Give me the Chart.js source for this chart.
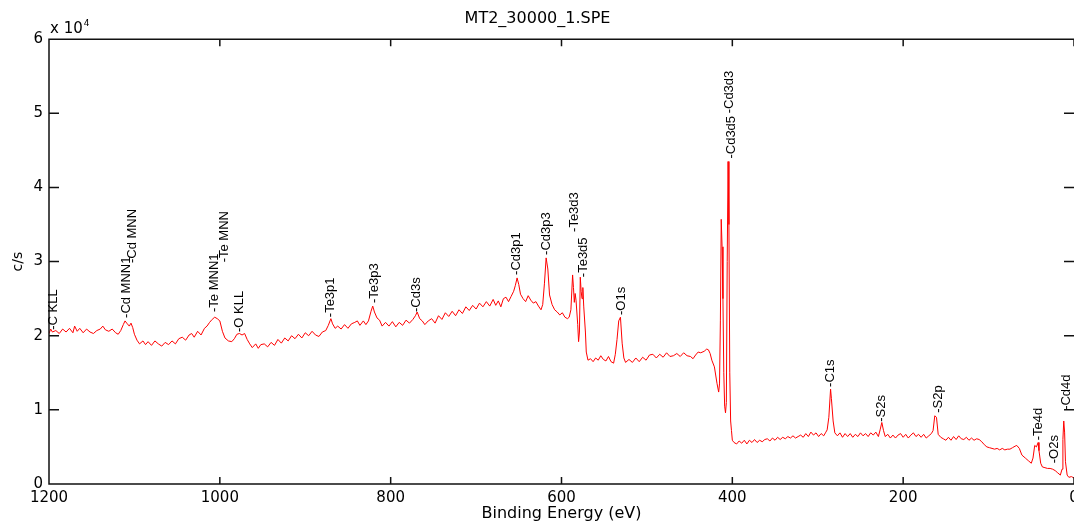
<!DOCTYPE html>
<html>
<head>
<meta charset="utf-8">
<script src="https://cdn.jsdelivr.net/npm/chart.js@4.4.1/dist/chart.umd.min.js"></script>
<style>
  body { margin: 0; background: #fff; }
  #wrap { width: 1074px; height: 523px; }
</style>
</head>
<body>
<div id="wrap"><canvas id="spectrum"></canvas></div>
<script>
// survey spectrum, binding energy (eV) and counts (c/s)
const energy = [
  1200, 1198, 1196, 1192, 1188, 1184, 1180, 1176, 1172, 1170,
  1167, 1164, 1160, 1156, 1152, 1148, 1144, 1140, 1137, 1134,
  1130, 1126, 1122, 1119, 1116, 1113, 1111, 1109, 1106, 1104,
  1102, 1100, 1097, 1094, 1090, 1087, 1084, 1080, 1076, 1072,
  1068, 1064, 1060, 1056, 1052, 1048, 1044, 1040, 1036, 1033,
  1030, 1026, 1022, 1018, 1015, 1012, 1009, 1006, 1003, 1000,
  997, 994, 990, 986, 983, 980, 977, 974, 971, 968,
  965, 962, 958, 955, 952, 948, 944, 940, 936, 932,
  928, 924, 920, 916, 912, 908, 904, 900, 896, 892,
  888, 884, 880, 876, 873, 870, 868, 865, 862, 858,
  854, 850, 846, 842, 839, 836, 832, 829, 826, 823,
  821, 819, 816, 813, 810, 806, 802, 798, 794, 790,
  786, 782, 778, 774, 771, 769, 766, 763, 760, 756,
  752, 748, 744, 740, 736, 732, 728, 724, 720, 716,
  712, 708, 704, 700, 696, 692, 688, 684, 680, 677,
  674, 671, 668, 665, 662, 659, 656, 654, 652, 650,
  648, 645, 642, 639, 636, 633, 630, 627, 624, 622,
  620, 618, 616, 614, 611, 608, 605, 602, 599, 596,
  593, 591, 589, 587, 586, 585, 584, 583, 581, 580,
  579, 578, 577, 576, 575, 574, 572, 571, 569, 566,
  563, 560, 557, 554, 551, 548, 545, 542, 539, 537,
  535, 533, 531, 529, 527, 525, 521, 517, 513, 509,
  505, 501, 497, 493, 489, 485, 481, 477, 473, 469,
  465, 461, 457, 453, 449, 446, 443, 440, 437, 433,
  430, 428, 426, 424, 421, 418, 416, 415, 414, 413,
  412, 411, 410, 409, 408, 407, 406, 405, 404, 403,
  402, 401, 400, 398, 395, 392, 389, 386, 383, 380,
  377, 374, 371, 368, 365, 362, 359, 356, 353, 350,
  347, 344, 341, 338, 335, 332, 329, 326, 323, 320,
  317, 314, 311, 308, 305, 302, 299, 296, 293, 291,
  289, 287, 285, 284, 282, 280, 277, 274, 271, 268,
  265, 262, 259, 256, 253, 250, 247, 244, 241, 238,
  235, 232, 229, 227, 225, 223, 221, 218, 215, 212,
  209, 206, 203, 200, 197, 194, 191, 188, 185, 182,
  179, 176, 173, 170, 167, 165, 163, 161, 159, 156,
  153, 150, 147, 144, 141, 138, 135, 132, 129, 126,
  123, 120, 117, 114, 111, 108, 105, 102, 99, 96,
  93, 90, 87, 84, 81, 78, 75, 72, 69, 67,
  64, 61, 57, 53, 50, 48, 46, 44, 42, 41,
  39, 37, 34, 31, 28, 25, 22, 19, 16, 14,
  13, 12, 11, 10, 8, 6, 3, 0
];
const counts = [
  20300, 20900, 20500, 20700, 20300, 20900, 20500, 21000, 20400, 21300,
  20600, 21000, 20400, 20900, 20500, 20300, 20700, 20900, 21300, 20800,
  20600, 20900, 20400, 20200, 20700, 21500, 22000, 21700, 21300, 21700,
  21100, 20200, 19400, 18900, 19300, 18800, 19200, 18700, 19300, 18900,
  18600, 19100, 18800, 19300, 18900, 19600, 19800, 19400, 20100, 20300,
  19800, 20600, 20100, 21000, 21300, 21800, 22200, 22500, 22300, 22000,
  20600, 19700, 19300, 19200, 19600, 20200, 20300, 20100, 20300, 19500,
  18900, 18400, 18900, 18300, 18800, 18900, 18500, 19100, 18700, 19500,
  19000, 19700, 19300, 20000, 19600, 20200, 19700, 20400, 20000, 20600,
  20100, 19900, 20500, 20700, 21400, 22300, 21600, 21000, 21300, 20900,
  21500, 21000, 21600, 21800, 22000, 21400, 22000, 21500, 22000, 23300,
  24000, 23200, 22400, 22100, 21300, 21800, 21300, 21900, 21200, 21800,
  21400, 22100, 21700, 22200, 22700, 23200, 22300, 22000, 21500, 22000,
  22300, 21700, 22700, 22200, 23100, 22600, 23300, 22700, 23500, 23000,
  23900, 23400, 24100, 23600, 24400, 23900, 24600, 24000, 24900, 24100,
  24700, 23900, 25000, 25200, 24600, 25300, 26000, 26800, 27800, 26900,
  25600, 25000, 24600, 25400, 24800, 24400, 24600, 24000, 23500, 24200,
  27000, 30500, 29000, 25500, 24200, 23500, 23200, 22800, 23100, 22500,
  22300, 22500, 23500, 28200, 26500, 24500, 25700, 24800, 21500, 19200,
  20500, 27900, 26000, 25000, 26500, 24000, 20500, 17800, 16700, 16900,
  16500, 17000, 16700, 17300, 16800, 16600, 17200, 16500, 16300, 17500,
  19500, 22000, 22500, 19000, 17000, 16400, 16800, 16400, 17000, 16500,
  17100, 16700, 17400, 17500, 17000, 17500, 17100, 17700, 17200, 17300,
  17600, 17200, 17700, 17300, 17200, 16900, 17400, 17800, 17700, 17900,
  18200, 18100, 17600, 16700, 15800, 13600, 12400, 13500, 22000, 35700,
  32000, 25000, 15000, 10500, 9600, 11000, 30000, 43500, 35000, 15000,
  8500, 7200, 5900, 5600, 5400, 5800, 5500, 5900, 5400, 5900,
  5600, 6000, 5600, 5900, 5700, 6000, 6100, 5800, 6200, 5900,
  6300, 6000, 6300, 6100, 6400, 6200, 6500, 6200, 6400, 6600,
  6300, 6800, 6400, 7000, 6600, 6900, 6400, 6800, 6500, 6900,
  7300, 9000, 12800, 11500, 8500, 6900, 6500, 6900, 6300, 6800,
  6400, 6800, 6300, 6700, 6400, 6900, 6500, 6800, 6400, 6900,
  6600, 7000, 6400, 7300, 8300, 7200, 6400, 6700, 6200, 6600,
  6200, 6600, 6800, 6300, 6700, 6200, 6600, 6900, 6400, 6700,
  6300, 6700, 6200, 6500, 6800, 7200, 9200, 9000, 6700, 6300,
  6100, 5900, 6300, 5900, 6400, 6000, 6500, 6100, 6000, 6300,
  5900, 6200, 5900, 6100, 6000, 5700, 5300, 5000, 4900, 4800,
  4700, 4800, 4600, 4800, 4600, 4700, 4700, 4900, 5100, 5200,
  4800, 3900, 3500, 3100, 2800, 3500, 5200, 5000, 5600, 4500,
  2800, 2300, 2200, 2100, 2100, 2000, 1800, 1500, 1200, 2000,
  6000, 8500, 7000, 3000, 1200, 900, 1000, 800
];

// peak markers: text, energy of the text column, height where the text starts
const peakNames = ['-C KLL', '-Cd MNN1', '-Cd MNN', '-Te MNN1', '-Te MNN', '-O KLL',
  '-Te3p1', '-Te3p3', '-Cd3s', '-Cd3p1', '-Cd3p3', '-Te3d3', '-Te3d5', '-O1s',
  '-Cd3d5', '-Cd3d3', '-C1s', '-S2s', '-S2p', '-Te4d', '-O2s', '-Cd4d'];
const peakEnergy = [1195, 1109, 1102, 1006, 995, 977,
  870, 819, 770, 653, 618, 585, 574, 530,
  401, 403, 285, 225, 159, 42, 23, 9];
const peakTextY = [20800, 22400, 29800, 23200, 29900, 20500,
  22500, 24400, 23200, 28200, 30900, 34000, 27900, 22800,
  43900, 50000, 13100, 8400, 9600, 5900, 2800, 10000];

const xTicks = [0, 200, 400, 600, 800, 1000, 1200];
const yTicks = [0, 10000, 20000, 30000, 40000, 50000, 60000];

const frame = {
  id: 'frame',
  afterDatasetsDraw(chart) {
    const {ctx, chartArea: a, scales: {x, y}} = chart;
    ctx.save();
    ctx.strokeStyle = '#111';
    ctx.lineWidth = 1.5;
    ctx.beginPath();
    ctx.moveTo(a.right, a.top); ctx.lineTo(a.left, a.top);
    ctx.lineTo(a.left, a.bottom); ctx.lineTo(a.right, a.bottom);
    xTicks.forEach(v => {
      const px = x.getPixelForValue(v);
      ctx.moveTo(px, a.bottom); ctx.lineTo(px, a.bottom - 7);
      ctx.moveTo(px, a.top); ctx.lineTo(px, a.top + 7);
    });
    yTicks.forEach(v => {
      const py = y.getPixelForValue(v);
      ctx.moveTo(a.left, py); ctx.lineTo(a.left + 10, py);
      ctx.moveTo(a.right, py); ctx.lineTo(a.right - 10, py);
    });
    ctx.stroke();

    // peak names, written upward from the peak
    ctx.fillStyle = '#000';
    ctx.font = '13px "Liberation Sans", Arial, sans-serif';
    ctx.textAlign = 'left';
    ctx.textBaseline = 'middle';
    peakNames.forEach((name, i) => {
      ctx.save();
      ctx.translate(x.getPixelForValue(peakEnergy[i]), y.getPixelForValue(peakTextY[i]));
      ctx.rotate(-Math.PI / 2);
      ctx.fillText(name, 0, 0);
      ctx.restore();
    });

    // exponent note over the y axis
    ctx.textBaseline = 'alphabetic';
    ctx.font = '15px "DejaVu Sans"';
    ctx.fillText('x 10', a.left + 1, a.top - 6);
    const w = ctx.measureText('x 10').width;
    ctx.font = '9px "DejaVu Sans"';
    ctx.fillText('4', a.left + 2 + w, a.top - 13);
    ctx.restore();
  }
};

new Chart('spectrum', {
  type: 'line',
  data: {
    datasets: [{
      label: 'MT2_30000_1.SPE',
      data: energy.map((e, i) => ({x: e, y: counts[i]})),
      borderColor: '#ff0000',
      borderWidth: 1,
      pointRadius: 0,
      tension: 0,
      fill: false
    }]
  },
  options: {
    responsive: true,
    maintainAspectRatio: false,
    animation: false,
    events: [],
    layout: {autoPadding: false, padding: {left: 0, right: -1, top: 0, bottom: 0}},
    plugins: {
      legend: {display: false},
      tooltip: {enabled: false},
      title: {
        display: true,
        text: 'MT2_30000_1.SPE',
        color: '#000',
        font: {family: 'DejaVu Sans', size: 16, weight: 'normal', lineHeight: 1.2},
        padding: {top: 9, bottom: 11}
      }
    },
    scales: {
      x: {
        type: 'linear',
        reverse: true,
        min: 0,
        max: 1200,
        afterFit: s => { s.height = 39; },
        afterBuildTicks: s => { s.ticks = xTicks.map(v => ({value: v})); },
        grid: {display: false, drawTicks: false},
        border: {display: false},
        ticks: {color: '#000', padding: 5, maxRotation: 0, autoSkip: false,
          font: {family: 'DejaVu Sans', size: 15},
          callback: v => String(v)},
        title: {display: true, text: 'Binding Energy (eV)', color: '#000',
          font: {family: 'DejaVu Sans', size: 16}, padding: {top: 0, bottom: 0}}
      },
      y: {
        min: 0,
        max: 60000,
        afterFit: s => { s.width = 49; },
        afterBuildTicks: s => { s.ticks = yTicks.map(v => ({value: v})); },
        grid: {display: false, drawTicks: false},
        border: {display: false},
        ticks: {color: '#000', padding: 6, autoSkip: false,
          font: {family: 'DejaVu Sans', size: 15},
          callback: v => String(v / 10000)},
        title: {display: true, text: 'c/s', color: '#000',
          font: {family: 'DejaVu Sans', size: 14}, padding: {top: 10, bottom: 0}}
      }
    }
  },
  plugins: [frame]
});
</script>
</body>
</html>
